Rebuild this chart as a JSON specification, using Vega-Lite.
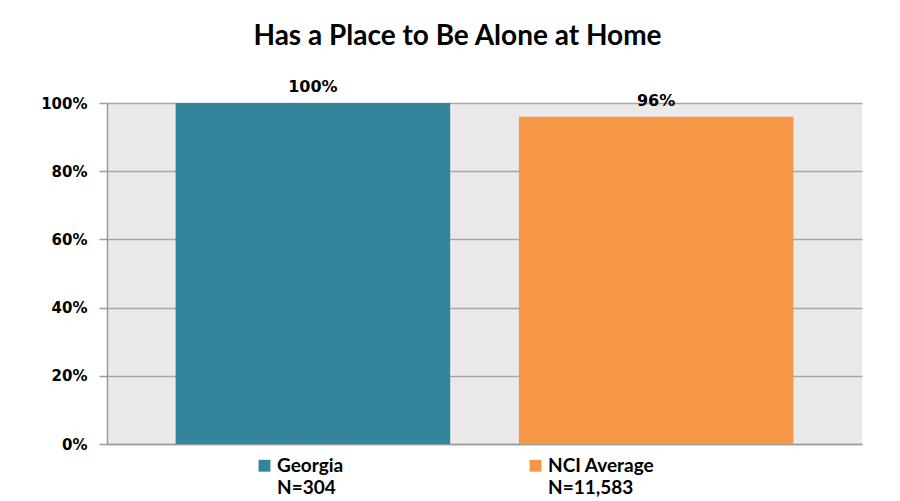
{
  "$schema": "https://vega.github.io/schema/vega-lite/v6.json",
  "width": 755,
  "height": 341,
  "autosize": {"type": "none"},
  "padding": {"left": 107, "top": 103, "right": 38, "bottom": 57},
  "background": "white",
  "title": {
    "text": "Has a Place to Be Alone at Home",
    "font": "Lato",
    "fontSize": 28,
    "fontWeight": "bold",
    "color": "black",
    "anchor": "middle",
    "frame": "group",
    "dx": -27,
    "offset": 0,
    "baseline": "bottom"
  },
  "data": {
    "values": [
      {"group": "Georgia", "legend": "Georgia|N=304", "pct": 1.0, "label": "100%"},
      {"group": "NCI Average", "legend": "NCI Average|N=11,583", "pct": 0.96, "label": "96%"}
    ]
  },
  "encoding": {
    "x": {
      "field": "group",
      "type": "nominal",
      "sort": null,
      "scale": {"paddingInner": 0.2, "paddingOuter": 0.2},
      "axis": {"labels": false, "ticks": false, "title": null, "domainColor": "#9A9A9A", "domainWidth": 1.5, "grid": false}
    },
    "y": {
      "field": "pct",
      "type": "quantitative",
      "scale": {"domain": [0, 1], "nice": false},
      "axis": {
        "values": [0, 0.2, 0.4, 0.6, 0.8, 1.0],
        "format": ".0%",
        "title": null,
        "labelFont": "DejaVu Sans",
        "labelFontSize": 15,
        "labelFontWeight": "bold",
        "labelColor": "black",
        "labelPadding": 12,
        "tickSize": 8,
        "tickColor": "#9A9A9A",
        "tickWidth": 1.5,
        "domainColor": "#9A9A9A",
        "domainWidth": 1.5,
        "grid": true,
        "gridColor": "#A6A6A6",
        "gridWidth": 1.5
      }
    }
  },
  "layer": [
    {
      "mark": {"type": "bar"},
      "encoding": {
        "color": {
          "field": "legend",
          "type": "nominal",
          "sort": null,
          "scale": {"range": ["#31849B", "#F79646"]},
          "legend": {
            "orient": "none",
            "legendX": 148,
            "legendY": 353,
            "direction": "horizontal",
            "columns": 2,
            "columnPadding": 182,
            "title": null,
            "symbolType": "square",
            "symbolSize": 140,
            "symbolStrokeWidth": 0,
            "symbolOpacity": 1,
            "labelFont": "Lato",
            "labelFontSize": 19,
            "labelFontWeight": "bold",
            "labelColor": "black",
            "labelOffset": 3,
            "labelExpr": "split(datum.label, '|')",
            "labelLimit": 300
          }
        }
      }
    },
    {
      "mark": {
        "type": "text",
        "baseline": "bottom",
        "dy": -8,
        "font": "DejaVu Sans",
        "fontSize": 16,
        "fontWeight": "bold",
        "color": "black"
      },
      "encoding": {"text": {"field": "label"}}
    }
  ],
  "config": {
    "view": {"fill": "#EAEAEA", "stroke": null},
    "style": {"guide-label": {"lineHeight": 22}}
  }
}
